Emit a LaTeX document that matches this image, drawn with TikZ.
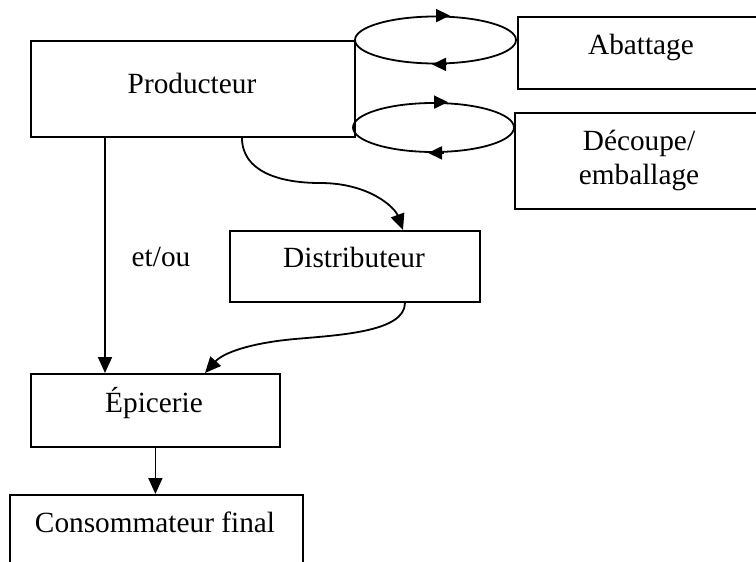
\documentclass[tikz,border=0pt]{standalone}
\usepackage{fontspec}
\setmainfont{Liberation Serif}
\usetikzlibrary{arrows.meta,calc,shapes.geometric}

\begin{document}
\begin{tikzpicture}[x=1pt,y=-1pt,line width=1.8pt,
  box/.style={draw,rectangle,inner sep=0pt,anchor=north west},
  lbl/.style={font=\fontsize{29.3}{34}\selectfont,anchor=base,inner sep=0pt,align=center},
  arr/.style={-{Triangle[length=16pt,width=14pt]}},
  looparr/.style={-{Triangle[length=14pt,width=13pt]}},
  loopring/.style={draw,ellipse,inner sep=0pt}]
  \useasboundingbox (0,0) rectangle (756,562);
  \clip (0,0) rectangle (756,562);

  % boxes
  \node[box,minimum width=324pt,minimum height=96pt] (prod) at (30,40) {};
  \node[box,minimum width=260pt,minimum height=72pt] (abat) at (517,16) {};
  \node[box,minimum width=260pt,minimum height=96pt] (decoupe) at (514,112) {};
  \node[box,minimum width=250pt,minimum height=71pt] (dist) at (229,230) {};
  \node[box,minimum width=249pt,minimum height=73pt] (epi) at (30,373) {};
  \node[box,minimum width=293pt,minimum height=100pt] (cons) at (9,494) {};

  % labels
  \node[lbl] (tprod) at (192,93) {Producteur};
  \node[lbl] (tabat) at (641,54) {Abattage};
  \node[lbl] (tdecoupe) at (639,184) {Découpe/\\emballage};
  \node[lbl] (tdist) at (354,267) {Distributeur};
  \node[lbl] (tet) at (161,266) {et/ou};
  \node[lbl] (tepi) at (154,412) {Épicerie};
  \node[lbl] (tcons) at (155,532) {Consommateur final};

  % loops between the producer and the processing steps
  \node[loopring,minimum width=161pt,minimum height=47pt] (loopA) at (435.5,40) {};
  \node[loopring,minimum width=161pt,minimum height=49pt] (loopB) at (433.5,127.5) {};
  \draw[looparr] (loopA.north) -- ([xshift=14.5pt]loopA.north);
  \draw[looparr] ([xshift=10pt]loopA.south) -- ([xshift=-3.5pt]loopA.south);
  \draw[looparr] (loopB.north) -- ([xshift=14.5pt]loopB.north);
  \draw[looparr] ([xshift=10pt]loopB.south) -- ([xshift=-5.5pt]loopB.south);

  % flows
  \draw[arr] ([xshift=75pt]prod.south west) -- ([xshift=75pt]epi.north west);
  \draw[arr] ([xshift=212pt]prod.south west)
    .. controls +(0,34) and +(-40,0) .. (320,183)
    .. controls +(50,0) and +(-8,-22) .. ([xshift=174pt]dist.north west);
  \draw[arr] ([xshift=176pt]dist.south west)
    .. controls +(0,29) and +(45,-4) .. (295,339)
    .. controls +(-45,4) and +(18,-20) .. ([xshift=-24pt]dist.south west |- epi.north);
  \draw[arr] (epi.south) -- (epi.south |- cons.north);
\end{tikzpicture}
\end{document}
